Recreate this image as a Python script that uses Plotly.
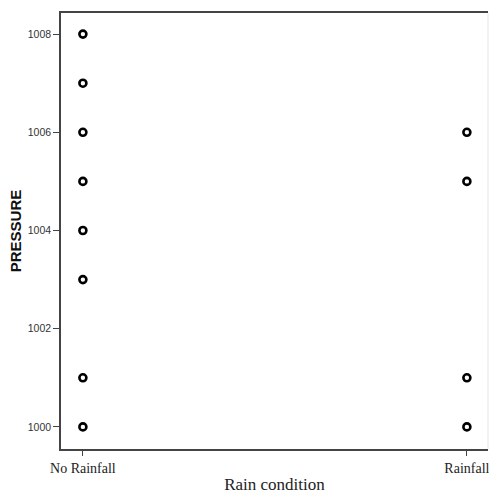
import plotly.graph_objects as go

categories = ["No Rainfall", "Rainfall"]
no_rain_pressure = [1008, 1007, 1006, 1005, 1004, 1003, 1001, 1000]
rain_pressure = [1006, 1005, 1001, 1000]
y_ticks = [1000, 1002, 1004, 1006, 1008]

xs = [0] * len(no_rain_pressure) + [1] * len(rain_pressure)
ys = no_rain_pressure + rain_pressure

fig = go.Figure()
fig.add_trace(go.Scatter(
    x=xs, y=ys, mode="markers",
    marker=dict(symbol="circle-open", size=7, color="black", line=dict(width=2.6, color="black")),
    showlegend=False, hoverinfo="skip",
))

fig.update_layout(
    width=489, height=494,
    margin=dict(l=61, r=1, t=13, b=45),
    paper_bgcolor="white", plot_bgcolor="white",
    xaxis=dict(
        range=[-0.057, 1.055], automargin=False,
        tickmode="array", tickvals=[0, 1], ticktext=categories,
        showgrid=False, zeroline=False,
        showline=True, linecolor="#444", linewidth=1.5, mirror=True,
        ticks="outside", ticklen=5, tickcolor="#444",
        ticklabeloverflow="allow",
        tickfont=dict(family="Liberation Serif, Times New Roman, serif", size=14, color="#222"),
        title=dict(text="Rain condition", standoff=7,
                   font=dict(family="Liberation Serif, Times New Roman, serif", size=17, color="#222")),
    ),
    yaxis=dict(
        range=[999.55, 1008.43], automargin=False,
        tickmode="array", tickvals=y_ticks,
        showgrid=False, zeroline=False,
        showline=True, linecolor="#444", linewidth=1.5,
        ticks="outside", ticklen=6, tickcolor="#444",
        tickfont=dict(family="Liberation Sans, Arial, sans-serif", size=10.5, color="#333"),
        title=dict(text="<b>PRESSURE</b>", standoff=3,
                   font=dict(family="Liberation Sans, Arial, sans-serif", size=15, color="#111")),
    ),
)
fig.add_shape(type="line", xref="paper", yref="paper", x0=1, x1=1, y0=0, y1=1,
              line=dict(color="#e6e6e6", width=1))
fig.write_html("out.html")
